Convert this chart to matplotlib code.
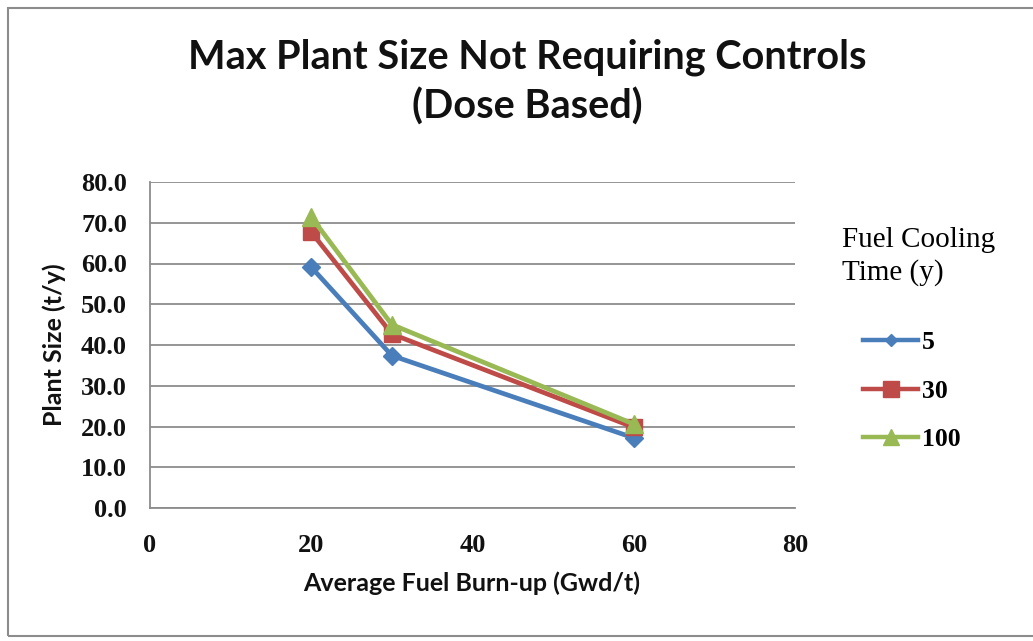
import matplotlib
matplotlib.use("Agg")
import matplotlib.pyplot as plt
from matplotlib.patches import Rectangle
from matplotlib.lines import Line2D

burnup = [20, 30, 60]
series_labels = ["5", "30", "100"]
plant_5 = [59.1, 37.4, 17.2]
plant_30 = [67.7, 42.7, 19.8]
plant_100 = [71.4, 45.0, 20.6]
x_ticks = [0, 20, 40, 60, 80]
y_ticks = [0, 10, 20, 30, 40, 50, 60, 70, 80]

colors = ["#4A7EBB", "#BE4B48", "#98B954"]
markers = ["D", "s", "^"]
msizes = [9, 11, 12.5]
leg_msizes = [6.5, 12, 11]

W, H = 1033, 641
fig = plt.figure(figsize=(W / 100, H / 100), dpi=100)
fig.patch.set_facecolor("white")

def fx(px):
    return px / W

def fy(py):
    return 1 - py / H

# outer chart border
fig.add_artist(Rectangle((fx(7.5), fy(636)), (W + 10) / W, (636 - 8) / H,
                         transform=fig.transFigure, fill=False,
                         edgecolor="#8c8c8c", linewidth=1.5))

left, right, top, bottom = 150, 795, 182, 508
ax = fig.add_axes([fx(left), fy(bottom), (right - left) / W, (bottom - top) / H])

for vals, c, m, ms, lab in zip([plant_5, plant_30, plant_100], colors, markers, msizes, series_labels):
    ax.plot(burnup, vals, color=c, marker=m, markersize=ms, linewidth=3.4,
            markeredgecolor=c, label=lab, zorder=3)

ax.set_xlim(0, 80)
ax.set_ylim(0, 80)
ax.set_xticks(x_ticks)
ax.set_yticks(y_ticks)
tick_font = dict(fontfamily="Liberation Serif", fontweight="bold", fontsize=19)
ax.set_xticklabels([str(v) for v in x_ticks], **tick_font)
ax.set_yticklabels([f"{v:.1f}" for v in y_ticks], **tick_font)
ax.tick_params(axis="both", length=0, colors="#111111")
ax.tick_params(axis="y", pad=16.5)
ax.tick_params(axis="x", pad=19)
ax.grid(axis="y", color="#8c8c8c", linewidth=1.3)
ax.set_axisbelow(True)
for s in ["top", "right"]:
    ax.spines[s].set_visible(False)
for s in ["left", "bottom"]:
    ax.spines[s].set_color("#8c8c8c")
    ax.spines[s].set_linewidth(1.3)

label_font = dict(fontfamily="Lato", fontweight="bold", fontsize=18, color="#111111")
fig.text(fx(472), fy(591), "Average Fuel Burn-up (Gwd/t)", ha="center",
         va="baseline", **label_font)
fig.text(fx(54), fy(345), "Plant Size (t/y)", ha="center", va="center",
         rotation=90, **label_font)

title_font = dict(fontfamily="Lato", fontweight="bold", fontsize=28.5, color="#111111")
fig.text(fx(527), fy(69), "Max Plant Size Not Requiring Controls", ha="center",
         va="baseline", **title_font)
fig.text(fx(527), fy(119), "(Dose Based)", ha="center", va="baseline", **title_font)

fig.text(fx(842), fy(247), "Fuel Cooling", ha="left", va="baseline",
         fontfamily="Liberation Serif", fontsize=21)
fig.text(fx(842), fy(280), "Time (y)", ha="left", va="baseline",
         fontfamily="Liberation Serif", fontsize=21)

handles = [Line2D([], [], color=c, marker=m, markersize=ms, linewidth=3.2)
           for c, m, ms in zip(colors, markers, leg_msizes)]
leg = fig.legend(handles, series_labels, loc="upper left",
                 bbox_to_anchor=(fx(863), fy(331)), frameon=False,
                 borderpad=0, borderaxespad=0,
                 handlelength=2.15, handletextpad=0.16, labelspacing=1.0,
                 prop={"family": "Liberation Serif", "weight": "bold", "size": 18.5})

fig.savefig("out.png", dpi=100)
